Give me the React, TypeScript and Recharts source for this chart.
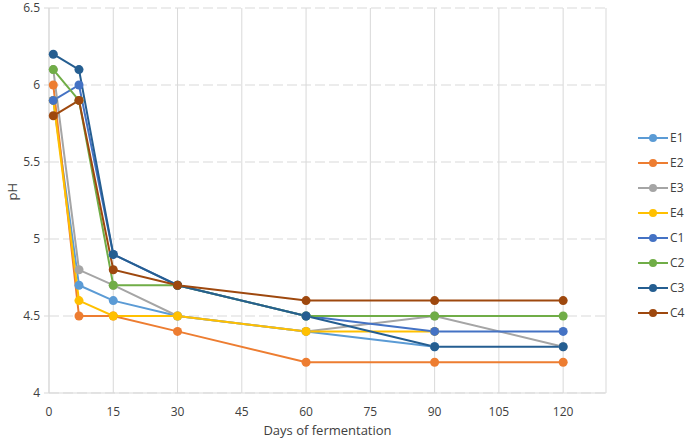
import { LineChart, Line, XAxis, YAxis, CartesianGrid } from 'recharts'

const days = [1, 7, 15, 30, 60, 90, 120]
const xTicks = [0, 15, 30, 45, 60, 75, 90, 105, 120]
const yTicks = [4, 4.5, 5, 5.5, 6, 6.5]

const e1 = [5.9, 4.7, 4.6, 4.5, 4.4, 4.3, null]
const e2 = [6.0, 4.5, 4.5, 4.4, 4.2, 4.2, 4.2]
const e3 = [6.1, 4.8, 4.7, 4.5, 4.4, 4.5, 4.3]
const e4 = [5.9, 4.6, 4.5, 4.5, 4.4, 4.4, null]
const c1 = [5.9, 6.0, 4.9, 4.7, 4.5, 4.4, 4.4]
const c2 = [6.1, 5.9, 4.7, 4.7, 4.5, 4.5, 4.5]
const c3 = [6.2, 6.1, 4.9, 4.7, 4.5, 4.3, 4.3]
const c4 = [5.8, 5.9, 4.8, 4.7, 4.6, 4.6, 4.6]

const series = [
  { key: 'E1', values: e1, color: '#5B9BD5' },
  { key: 'E2', values: e2, color: '#ED7D31' },
  { key: 'E3', values: e3, color: '#A5A5A5' },
  { key: 'E4', values: e4, color: '#FFC000' },
  { key: 'C1', values: c1, color: '#4472C4' },
  { key: 'C2', values: c2, color: '#70AD47' },
  { key: 'C3', values: c3, color: '#255E91' },
  { key: 'C4', values: c4, color: '#9E480E' },
]

const data = days.map((day, i) => {
  const row: Record<string, number | null> = { day }
  series.forEach((s) => {
    row[s.key] = s.values[i]
  })
  return row
})

const font = 'Open Sans, Noto Sans, sans-serif'
const textColor = '#404040'
const gridColor = '#d9d9d9'

// legend drawn beside the chart, Excel style: line with filled dot
function SideLegend() {
  return (
    <div
      style={{
        position: 'absolute',
        left: 638,
        top: 125,
        fontFamily: font,
        fontSize: 12,
        color: textColor,
      }}
    >
      {series.map((s) => (
        <div key={s.key} style={{ display: 'flex', alignItems: 'center', height: 25 }}>
          <svg width={30} height={10}>
            <line x1={0} y1={5} x2={30} y2={5} stroke={s.color} strokeWidth={2} />
            <circle cx={15} cy={5} r={4} fill={s.color} />
          </svg>
          <span style={{ marginLeft: 2 }}>{s.key}</span>
        </div>
      ))}
    </div>
  )
}

export default function App() {
  return (
    <div style={{ position: 'absolute', left: 0, top: 0, width: 686, height: 441, background: '#fff' }}>
      <LineChart
        width={686}
        height={441}
        data={data}
        margin={{ top: 8, right: 80, left: 0, bottom: 0 }}
      >
        <CartesianGrid horizontal={false} stroke={gridColor} strokeWidth={1} />
        <CartesianGrid vertical={false} stroke={gridColor} strokeDasharray="10 4" strokeWidth={1} />
        <XAxis
          dataKey="day"
          type="number"
          domain={[0, 130]}
          ticks={xTicks}
          interval={0}
          height={48}
          tickLine={false}
          tickMargin={8}
          axisLine={{ stroke: gridColor }}
          tick={{ fill: textColor, fontSize: 12, fontFamily: font }}
          label={{
            value: 'Days of fermentation',
            position: 'insideBottom',
            offset: 6,
            fill: textColor,
            fontSize: 13,
            fontFamily: font,
          }}
        />
        <YAxis
          type="number"
          domain={[4, 6.5]}
          ticks={yTicks}
          interval={0}
          width={49}
          tickSize={5}
          tickMargin={4}
          tickLine={{ stroke: gridColor }}
          axisLine={{ stroke: gridColor }}
          tick={{ fill: textColor, fontSize: 12, fontFamily: font }}
          label={{
            value: 'pH',
            angle: -90,
            position: 'insideLeft',
            offset: 12,
            fill: textColor,
            fontSize: 13,
            fontFamily: font,
          }}
        />
        {series.map((s) => (
          <Line
            key={s.key}
            type="linear"
            dataKey={s.key}
            stroke={s.color}
            strokeWidth={2}
            dot={{ r: 4.5, fill: s.color, stroke: s.color, strokeWidth: 0 }}
            activeDot={false}
            connectNulls={false}
            isAnimationActive={false}
          />
        ))}
      </LineChart>
      <SideLegend />
    </div>
  )
}
